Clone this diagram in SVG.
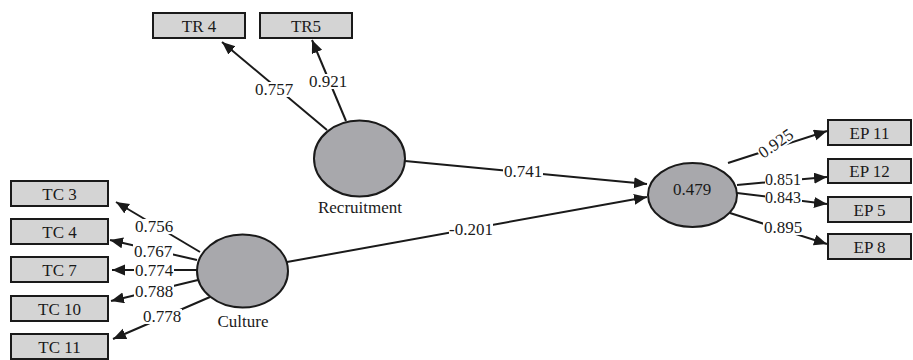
<svg xmlns="http://www.w3.org/2000/svg" width="913" height="360" viewBox="0 0 913 360">
<style>
text{font-family:"Liberation Serif","Times New Roman",serif;font-size:17px;fill:#1a1a1a;text-anchor:middle}
.box{fill:#d4d4d4;stroke:#1a1a1a;stroke-width:2}
.lv{fill:#a8a8ac;stroke:#1a1a1a;stroke-width:2}
.c{stroke:#1a1a1a;stroke-width:2;fill:none;marker-end:url(#ah)}
.bg{fill:#fff}
.sm{font-size:16px}
.bt{dominant-baseline:central}
</style>
<defs>
<marker id="ah" markerUnits="userSpaceOnUse" markerWidth="14" markerHeight="12" refX="13" refY="5.5" orient="auto">
<path d="M0,0 L13,5.5 L0,11 Z" fill="#1a1a1a"/>
</marker>
</defs>
<g id="connectors">
<line class="c" x1="327" y1="130" x2="222" y2="42"/>
<line class="c" x1="346" y1="121" x2="312" y2="40"/>
<line class="c" x1="405" y1="161" x2="647" y2="184"/>
<line class="c" x1="287" y1="262" x2="647" y2="197"/>
<line class="c" x1="200" y1="252" x2="116" y2="202"/>
<line class="c" x1="197" y1="260" x2="110" y2="240"/>
<line class="c" x1="197" y1="270" x2="112" y2="270"/>
<line class="c" x1="198" y1="280" x2="111" y2="301"/>
<line class="c" x1="210" y1="297" x2="113" y2="339"/>
<line class="c" x1="728" y1="163" x2="827" y2="131"/>
<line class="c" x1="737" y1="185" x2="827" y2="177"/>
<line class="c" x1="737" y1="193" x2="827" y2="204"/>
<line class="c" x1="730" y1="213" x2="827" y2="244"/>
<g id="connector-labels">
<rect class="bg" x="254" y="82" width="40" height="15"/>
<rect class="bg" x="308" y="74" width="40" height="15"/>
<rect class="bg" x="503" y="164" width="40" height="15"/>
<rect class="bg" x="449" y="222" width="44" height="15"/>
<rect class="bg" x="134" y="219" width="40" height="15"/>
<rect class="bg" x="133" y="244" width="40" height="15"/>
<rect class="bg" x="134" y="263" width="40" height="15"/>
<rect class="bg" x="134" y="284" width="40" height="15"/>
<rect class="bg" x="142" y="309" width="40" height="15"/>
<rect class="bg" x="-20" y="-13" width="40" height="15" transform="translate(779,148) rotate(-35)"/>
<rect class="bg" x="765" y="173" width="37" height="14"/>
<rect class="bg" x="765" y="191" width="37" height="14"/>
<rect class="bg" x="763" y="220" width="40" height="15"/>
<text x="274" y="95">0.757</text>
<text x="328" y="87">0.921</text>
<text x="523" y="177">0.741</text>
<text x="471" y="235">-0.201</text>
<text x="154" y="232">0.756</text>
<text x="153" y="257">0.767</text>
<text x="154" y="276">0.774</text>
<text x="154" y="297">0.788</text>
<text x="162" y="322">0.778</text>
<text x="0" y="0" transform="translate(779,148) rotate(-35)">0.925</text>
<text class="sm" x="783" y="185">0.851</text>
<text class="sm" x="783" y="203">0.843</text>
<text x="783" y="233">0.895</text>
</g>
</g>
<g id="TR4"><rect class="box" x="153" y="13" width="92" height="25"/><text class="bt" x="199" y="26">TR 4</text></g>
<g id="TR5"><rect class="box" x="260" y="13" width="92" height="25"/><text class="bt" x="306" y="26">TR5</text></g>
<g id="Recruitment"><ellipse class="lv" cx="359.5" cy="158.5" rx="45.5" ry="38"/><text x="360" y="213">Recruitment</text></g>
<g id="Culture"><ellipse class="lv" cx="242.5" cy="271" rx="45.5" ry="36.5"/><text x="243" y="327">Culture</text></g>
<g id="EP"><ellipse class="lv" cx="692.5" cy="195" rx="44.5" ry="32"/><text x="692" y="195">0.479</text></g>
<g id="TC3"><rect class="box" x="11" y="181" width="97" height="25"/><text class="bt" x="59.5" y="194">TC 3</text></g>
<g id="TC4"><rect class="box" x="11" y="219" width="97" height="25"/><text class="bt" x="59.5" y="232">TC 4</text></g>
<g id="TC7"><rect class="box" x="11" y="257" width="97" height="25"/><text class="bt" x="59.5" y="270">TC 7</text></g>
<g id="TC10"><rect class="box" x="11" y="296" width="97" height="25"/><text class="bt" x="59.5" y="309">TC 10</text></g>
<g id="TC11"><rect class="box" x="11" y="334" width="97" height="25"/><text class="bt" x="59.5" y="347">TC 11</text></g>
<g id="EP11"><rect class="box" x="828" y="120" width="83" height="25"/><text class="bt" x="869.5" y="133">EP 11</text></g>
<g id="EP12"><rect class="box" x="828" y="159" width="83" height="24"/><text class="bt" x="869.5" y="171.5">EP 12</text></g>
<g id="EP5"><rect class="box" x="828" y="197" width="83" height="25"/><text class="bt" x="869.5" y="210">EP 5</text></g>
<g id="EP8"><rect class="box" x="828" y="234" width="83" height="25"/><text class="bt" x="869.5" y="247">EP 8</text></g>
</svg>
